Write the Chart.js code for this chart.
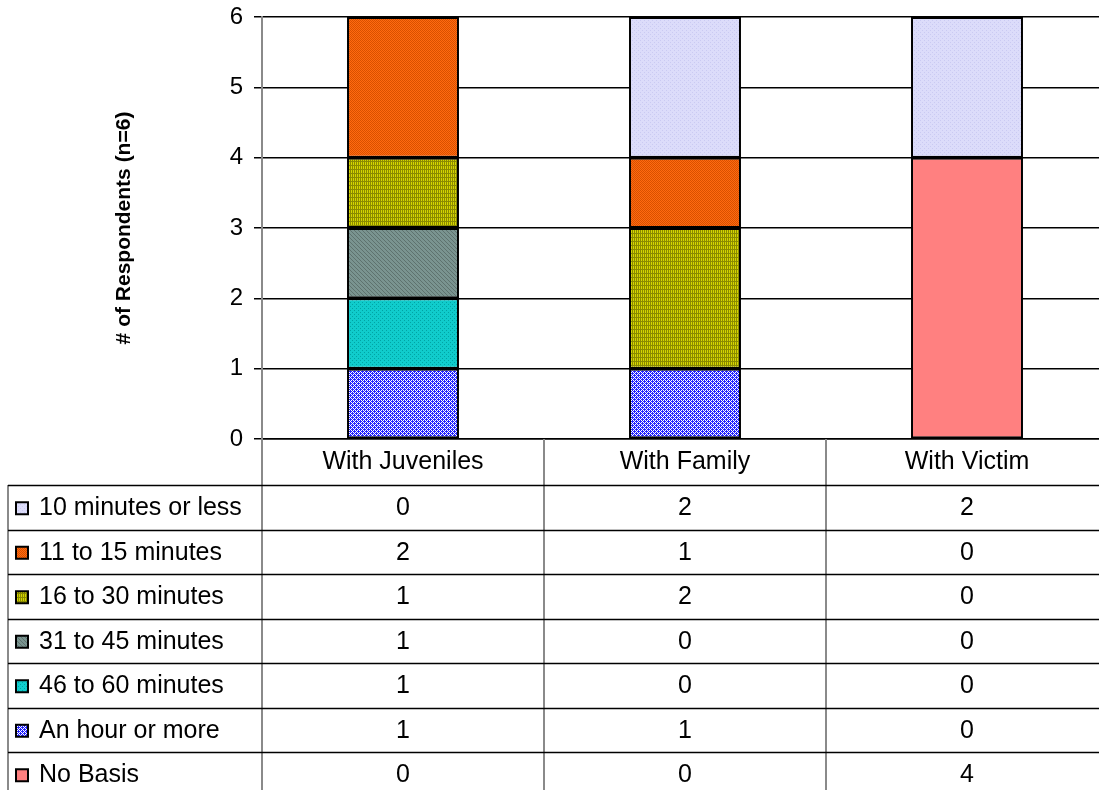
<!DOCTYPE html>
<html>
<head>
<meta charset="utf-8">
<script src="https://cdn.jsdelivr.net/npm/chart.js@4/dist/chart.umd.min.js"></script>
<style>
  html, body { margin: 0; padding: 0; background: #fff; overflow: hidden; }
  #wrap { width: 1108px; height: 790px; }
</style>
</head>
<body>
<div id="wrap"><canvas id="c" width="1108" height="790"></canvas></div>
<script>
// Categories and per-series respondent counts (table order, top to bottom)
const categories = ['With Juveniles', 'With Family', 'With Victim'];
const seriesNames = ['10 minutes or less', '11 to 15 minutes', '16 to 30 minutes',
  '31 to 45 minutes', '46 to 60 minutes', 'An hour or more', 'No Basis'];
const min10orLess = [0, 2, 2];
const min11to15 = [2, 1, 0];
const min16to30 = [1, 2, 0];
const min31to45 = [1, 0, 0];
const min46to60 = [1, 0, 0];
const hourOrMore = [1, 1, 0];
const noBasis = [0, 0, 4];
const yTicks = [0, 1, 2, 3, 4, 5, 6];

const seriesValues = [min10orLess, min11to15, min16to30, min31to45, min46to60, hourOrMore, noBasis];

const FONT = '"Liberation Sans", Arial, Helvetica, sans-serif';
const TEXT_SIZE = 25;

// Small textured fills
function makePattern(bg, fg, cells) {
  const p = document.createElement('canvas');
  p.width = 4; p.height = 4;
  const g = p.getContext('2d');
  g.fillStyle = bg; g.fillRect(0, 0, 4, 4);
  g.fillStyle = fg;
  cells.forEach(([x, y, w, h]) => g.fillRect(x, y, w, h));
  return document.getElementById('c').getContext('2d').createPattern(p, 'repeat');
}
const checker = [[0, 0, 1, 1], [2, 0, 1, 1], [1, 1, 1, 1], [3, 1, 1, 1], [0, 2, 1, 1], [2, 2, 1, 1], [1, 3, 1, 1], [3, 3, 1, 1]];
const fills = [
  makePattern('#dcdcfa', '#cacaf2', [[0, 0, 1, 1], [2, 2, 1, 1]]),
  makePattern('#ff6a10', '#d85000', checker),
  makePattern('#d4d400', '#8a8a00', [[0, 0, 1, 4], [2, 0, 1, 4], [0, 1, 4, 1]]),
  makePattern('#7a9490', '#5e726e', [[0, 0, 1, 1], [1, 1, 1, 1], [2, 2, 1, 1], [3, 3, 1, 1]]),
  makePattern('#10cccc', '#00a4a4', [[0, 0, 1, 1], [2, 2, 1, 1]]),
  makePattern('#ffffff', '#2424ff', checker.concat([[0, 1, 1, 1], [2, 3, 1, 1]])),
  '#ff8080'
];

// Stack from the bottom: last table row first
const order = [6, 5, 4, 3, 2, 1, 0];
const datasets = order.map(i => ({
  label: seriesNames[i],
  data: seriesValues[i].map(v => (v === 0 ? null : v)),
  backgroundColor: fills[i],
  borderColor: '#000',
  borderWidth: 2,
  borderSkipped: false,
  barPercentage: 1,
  categoryPercentage: 0.397
}));

// Data table drawn beneath the plot
const dataTable = {
  id: 'dataTable',
  afterDraw(chart) {
    const ctx = chart.ctx;
    const x = chart.scales.x, area = chart.chartArea;
    const colW = (x.right - x.left) / categories.length;
    const tableTop = x.bottom;
    const rowH = 44.5;
    const bottom = chart.height;
    ctx.save();
    // vertical separators
    ctx.strokeStyle = '#8a8a8a';
    ctx.lineWidth = 2;
    ctx.beginPath();
    ctx.moveTo(area.left, area.bottom); ctx.lineTo(area.left, bottom);
    for (let i = 1; i < categories.length; i++) {
      const cx = x.left + i * colW;
      ctx.moveTo(cx, area.bottom); ctx.lineTo(cx, bottom);
    }
    ctx.moveTo(8, tableTop); ctx.lineTo(8, bottom);
    ctx.stroke();
    // horizontal row lines
    ctx.strokeStyle = '#000';
    ctx.lineWidth = 1.5;
    ctx.beginPath();
    for (let r = 0; r < seriesNames.length; r++) {
      const y = Math.round(tableTop + r * rowH) + 0.5;
      ctx.moveTo(8, y); ctx.lineTo(chart.width, y);
    }
    ctx.stroke();
    // row content
    ctx.font = TEXT_SIZE + 'px ' + FONT;
    ctx.textBaseline = 'middle';
    seriesNames.forEach((name, r) => {
      const cy = tableTop + r * rowH + rowH / 2 + 1;
      // legend key
      ctx.fillStyle = fills[r];
      ctx.fillRect(16, cy - 6, 12, 12);
      ctx.strokeStyle = '#000';
      ctx.lineWidth = 2;
      ctx.strokeRect(16, cy - 6, 12, 12);
      ctx.fillStyle = '#000';
      ctx.textAlign = 'left';
      ctx.fillText(name, 39, cy);
      ctx.textAlign = 'center';
      seriesValues[r].forEach((v, c) => {
        ctx.fillText(String(v), x.getPixelForValue(c), cy);
      });
    });
    ctx.restore();
  }
};

new Chart(document.getElementById('c'), {
  type: 'bar',
  data: { labels: categories, datasets },
  options: {
    responsive: false,
    animation: false,
    devicePixelRatio: 1,
    layout: { padding: { left: 0, top: 17, right: 0, bottom: 305 } },
    plugins: { legend: { display: false }, tooltip: { enabled: false } },
    scales: {
      x: {
        stacked: true,
        grid: { display: false, drawTicks: false },
        border: { display: true, color: '#000', width: 1.5 },
        ticks: { color: '#000', font: { family: FONT, size: TEXT_SIZE }, padding: 8, maxRotation: 0 },
        afterFit(scale) {
          scale.height = 46;
          scale.paddingLeft = 0; scale.paddingRight = 0;
        }
      },
      y: {
        stacked: true,
        min: 0, max: 6,
        afterBuildTicks(scale) { scale.ticks = yTicks.map(v => ({ value: v })); },
        grid: { color: '#000', lineWidth: 1.5, drawTicks: true, tickLength: 8, tickColor: '#000' },
        border: { display: true, color: '#8a8a8a', width: 2 },
        ticks: { color: '#000', font: { family: FONT, size: 24 }, padding: 11 },
        title: {
          display: true,
          text: '# of Respondents (n=6)',
          color: '#000',
          font: { family: FONT, size: 21, weight: 'bold' },
          padding: { top: 112, bottom: 0 }
        },
        afterFit(scale) {
          scale.width = 262;
          scale.paddingTop = 0; scale.paddingBottom = 0;
        }
      }
    }
  },
  plugins: [dataTable]
});
</script>
</body>
</html>
